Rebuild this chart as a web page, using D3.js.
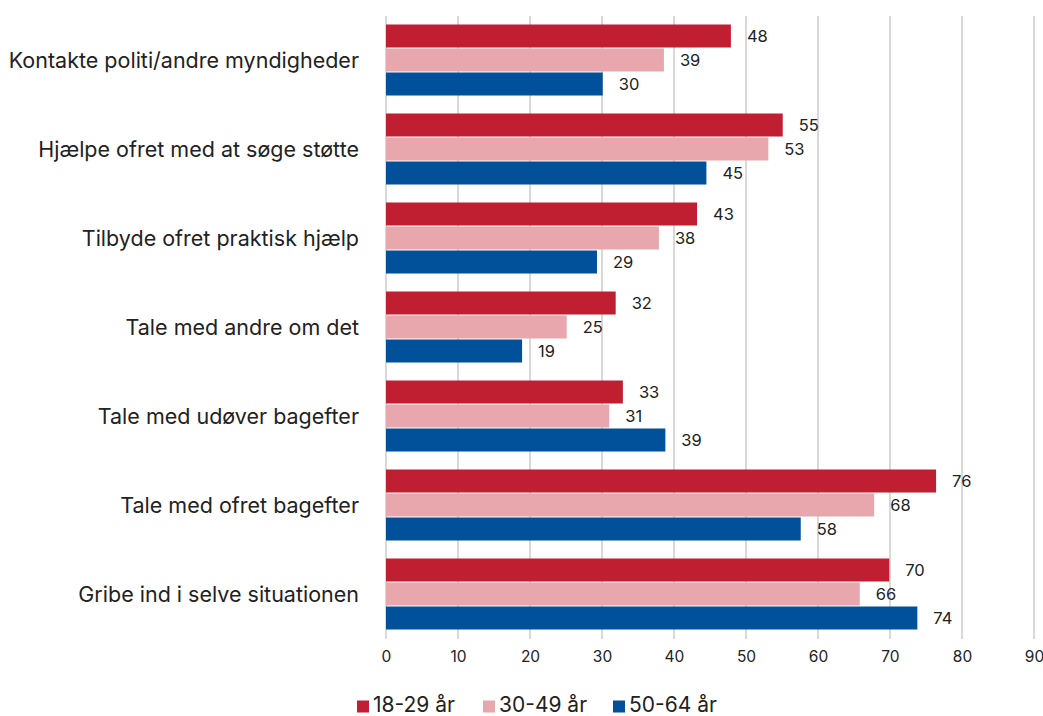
<!DOCTYPE html>
<html>
<head>
<meta charset="utf-8">
<script src="https://cdn.jsdelivr.net/npm/d3@7"></script>
<style>
  body { margin: 0; background: #fff; }
  text { font-family: Inter, "Noto Sans", sans-serif; fill: #222; }
</style>
</head>
<body>
<div id="chart"></div>
<script>
// categories, top to bottom
let categories = [
  "Kontakte politi/andre myndigheder",
  "Hjælpe ofret med at søge støtte",
  "Tilbyde ofret praktisk hjælp",
  "Tale med andre om det",
  "Tale med udøver bagefter",
  "Tale med ofret bagefter",
  "Gribe ind i selve situationen"
];
let seriesNames = ["18-29 år", "30-49 år", "50-64 år"];
let age18_29 = [47.9, 55.1, 43.2, 31.9, 32.9, 76.4, 69.9];
let age30_49 = [38.6, 53.1, 37.9, 25.1, 31.0, 67.8, 65.8];
let age50_64 = [30.1, 44.5, 29.3, 18.9, 38.8, 57.6, 73.8];
let xTicks = [0, 10, 20, 30, 40, 50, 60, 70, 80, 90];
let colors = ["#c01f32", "#e8a7ac", "#00509a"];

let width = 1043, height = 716;
let margin = { left: 386, right: 9, top: 16, bottom: 77 };

let svg = d3.select("#chart").append("svg")
  .attr("width", width)
  .attr("height", height);

let xScale = d3.scaleLinear().domain([0, 90]).range([margin.left, width - margin.right]);
let yScale = d3.scaleBand().domain(categories)
  .range([margin.top, height - margin.bottom])
  .paddingInner(17 / 89).paddingOuter(8.5 / 89);
let subScale = d3.scaleBand().domain(seriesNames).range([0, yScale.bandwidth()]);

// vertical gridlines
svg.append("g")
  .selectAll("line")
  .data(xTicks)
  .enter()
  .append("line")
  .attr("x1", d => xScale(d))
  .attr("x2", d => xScale(d))
  .attr("y1", margin.top)
  .attr("y2", height - margin.bottom)
  .attr("stroke", "#d9d9d9")
  .attr("stroke-width", 2);

// x axis labels
let xAxis = d3.axisBottom(xScale).tickValues(xTicks).tickSize(0).tickPadding(12);
let xg = svg.append("g")
  .attr("transform", `translate(0,${height - margin.bottom})`)
  .call(xAxis);
xg.select(".domain").remove();
xg.selectAll("text").style("font-size", "15.5px").style("font-family", "Inter, sans-serif").attr("fill", "#222");

// category labels
svg.append("g")
  .selectAll("text")
  .data(categories)
  .enter()
  .append("text")
  .attr("x", 359)
  .attr("y", d => yScale(d) + yScale.bandwidth() / 2)
  .attr("dy", "0.35em")
  .attr("text-anchor", "end")
  .style("font-size", "21.5px")
  .text(d => d);

// bars
let series = [age18_29, age30_49, age50_64];
series.forEach(function (vals, s) {
  let g = svg.append("g").attr("class", "series" + s);
  g.selectAll("rect")
    .data(vals)
    .enter()
    .append("rect")
    .attr("x", xScale(0))
    .attr("y", (d, i) => yScale(categories[i]) + subScale(seriesNames[s]))
    .attr("width", d => xScale(d) - xScale(0))
    .attr("height", subScale.bandwidth() - 1)
    .attr("fill", colors[s]);
  g.selectAll("text")
    .data(vals)
    .enter()
    .append("text")
    .attr("x", d => xScale(d) + 16)
    .attr("y", (d, i) => yScale(categories[i]) + subScale(seriesNames[s]) + subScale.bandwidth() / 2)
    .attr("dy", "0.35em")
    .style("font-size", "16.5px")
    .text(d => Math.round(d));
});

// legend
let legendX = [357, 483, 613];
let legend = svg.append("g");
seriesNames.forEach(function (name, i) {
  legend.append("rect")
    .attr("x", legendX[i])
    .attr("y", 700.5)
    .attr("width", 12)
    .attr("height", 12)
    .attr("fill", colors[i]);
  legend.append("text")
    .attr("x", legendX[i] + 16)
    .attr("y", 712)
    .style("font-size", "21px")
    .text(name);
});
</script>
</body>
</html>
